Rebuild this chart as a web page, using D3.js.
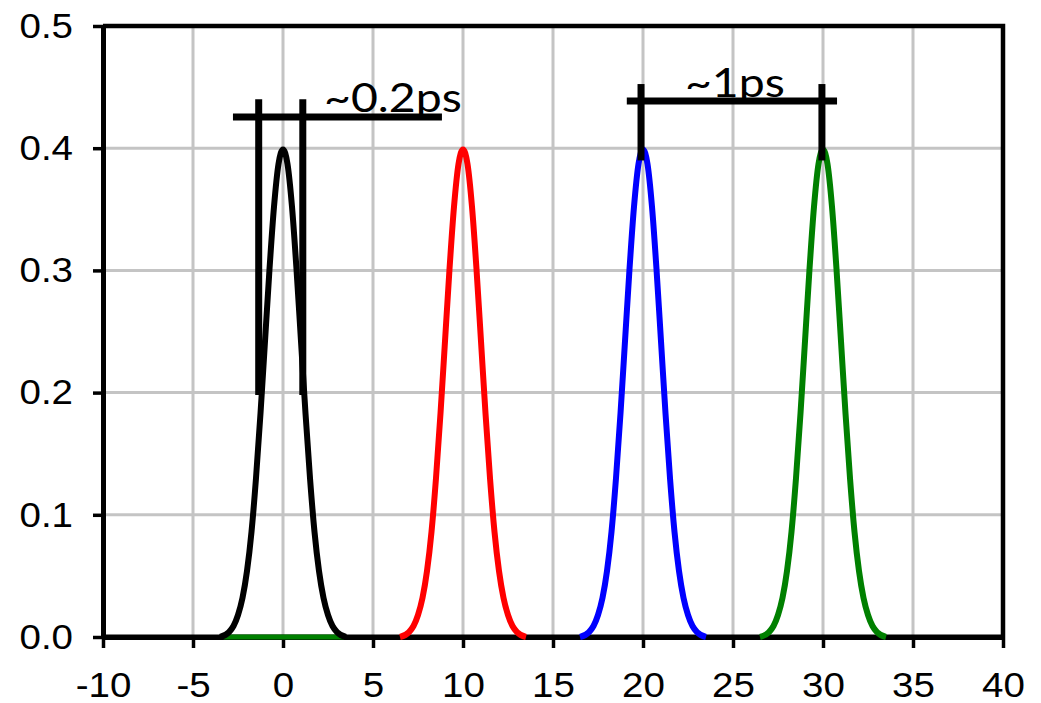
<!DOCTYPE html>
<html>
<head>
<meta charset="utf-8">
<script src="https://cdn.jsdelivr.net/npm/d3@7"></script>
<style>
  html, body { margin: 0; padding: 0; background: #fff; }
  svg { display: block; }
</style>
</head>
<body>
<svg id="chart" width="1041" height="703"></svg>
<script>
// Pulse centres (ps) and colours, one per series
const centers = [0, 10, 20, 30];
const colors = ["#000000", "#ff0000", "#0000ff", "#008000"];

// Pulse profile: offset from the centre and the height at that offset
const offsets = [-3.5, -3, -2.75, -2.5, -2.25, -2, -1.75, -1.5, -1.25, -1, -0.75, -0.5, -0.25,
                 0, 0.25, 0.5, 0.75, 1, 1.25, 1.5, 1.75, 2, 2.25, 2.5, 2.75, 3, 3.5];
const heights = [0.000, 0.004, 0.009, 0.018, 0.032, 0.054, 0.086, 0.130, 0.183, 0.242, 0.301, 0.352, 0.387,
                 0.399, 0.387, 0.352, 0.301, 0.242, 0.183, 0.130, 0.086, 0.054, 0.032, 0.018, 0.009, 0.004, 0.000];

// Flat baseline pieces: [x start, x end, series index]
const baseline = [[-10, 40, 0], [-3.3, 3.4, 3]];

// Axis ticks
const xTicks = [-10, -5, 0, 5, 10, 15, 20, 25, 30, 35, 40];
const yTicks = [0.0, 0.1, 0.2, 0.3, 0.4, 0.5];

// Annotation brackets (data units)
const bracketA = { x0: -2.78, x1: 8.83, y: 0.4255, legs: [-1.35, 1.1], legTop: 0.44, legBottom: 0.198 };
const bracketB = { x0: 19.1, x1: 30.78, y: 0.4386, legs: [19.89, 29.94], legTop: 0.4525, legBottom: 0.390 };
const labelA = { text: "~0.2ps", x: 2.28, y: 0.4296 };
const labelB = { text: "~1ps", x: 22.33, y: 0.4419 };

const svg = d3.select("#chart");
const plotLeft = 103, plotRight = 1003, plotTop = 26, plotBottom = 637;
const sx = 1.1; // horizontal text stretch

const x = d3.scaleLinear().domain([-10, 40]).range([plotLeft, plotRight]);
const y = d3.scaleLinear().domain([0, 0.5]).range([plotBottom, plotTop]);

// Gridlines
const grid = svg.append("g").attr("stroke", "#c4c4c4").attr("stroke-width", 3);
grid.selectAll("line.v").data(xTicks.slice(1, -1)).join("line").attr("class", "v")
  .attr("x1", d => x(d)).attr("x2", d => x(d)).attr("y1", plotTop).attr("y2", plotBottom);
grid.selectAll("line.h").data(yTicks.slice(1, -1)).join("line").attr("class", "h")
  .attr("x1", plotLeft).attr("x2", plotRight).attr("y1", d => y(d)).attr("y2", d => y(d));

// Frame top and right
svg.append("path")
  .attr("d", `M${plotLeft},${plotTop}H${plotRight}V${plotBottom}`)
  .attr("fill", "none").attr("stroke", "#000").attr("stroke-width", 4.5);

// Axes
const xAxis = svg.append("g").attr("transform", `translate(0,${plotBottom})`)
  .call(d3.axisBottom(x).tickValues(xTicks).tickSize(11).tickSizeOuter(0).tickPadding(24)
    .tickFormat(d => String(d)));
const yAxis = svg.append("g").attr("transform", `translate(${plotLeft},0)`)
  .call(d3.axisLeft(y).tickValues(yTicks).tickSize(10).tickSizeOuter(0).tickPadding(17)
    .tickFormat(d3.format(".1f")));

[xAxis, yAxis].forEach(g => {
  g.select(".domain").attr("stroke", "#000").attr("stroke-width", 5);
  g.selectAll(".tick line").attr("stroke", "#000").attr("stroke-width", 3.5);
  g.selectAll(".tick text")
    .attr("fill", "#000")
    .style("font-family", "'Liberation Sans', Arial, sans-serif")
    .style("font-size", "35px")
    .attr("transform", `scale(${sx},1)`);
});
yAxis.selectAll(".tick text").attr("x", -30 / sx);

// Pulses
const line = d3.line().x(d => x(d[0])).y(d => y(d[1])).curve(d3.curveMonotoneX);
const series = svg.append("g").attr("fill", "none");
baseline.forEach(b => {
  series.append("path").attr("d", line([[b[0], 0], [b[1], 0]]))
    .attr("stroke", colors[b[2]]).attr("stroke-width", 5);
});
centers.forEach((c, i) => {
  const body = offsets.map((o, k) => [c + o, heights[k]]);
  series.append("path")
    .attr("d", line(body))
    .attr("stroke", colors[i]).attr("stroke-width", 6)
    .attr("stroke-linejoin", "round");
});

// Annotation brackets
function bracket(b) {
  const g = svg.append("g").attr("stroke", "#000").attr("stroke-width", 7);
  g.append("line").attr("x1", x(b.x0)).attr("x2", x(b.x1)).attr("y1", y(b.y)).attr("y2", y(b.y));
  b.legs.forEach(l => g.append("line")
    .attr("x1", x(l)).attr("x2", x(l)).attr("y1", y(b.legTop)).attr("y2", y(b.legBottom)));
}
bracket(bracketA);
bracket(bracketB);

[labelA, labelB].forEach(l => {
  svg.append("text")
    .attr("transform", `translate(${x(l.x)},${y(l.y)}) scale(1.16,1)`)
    .style("font-family", "Lato, 'Open Sans', sans-serif")
    .style("font-size", "40px")
    .attr("fill", "#000")
    .text(l.text);
});
</script>
</body>
</html>
